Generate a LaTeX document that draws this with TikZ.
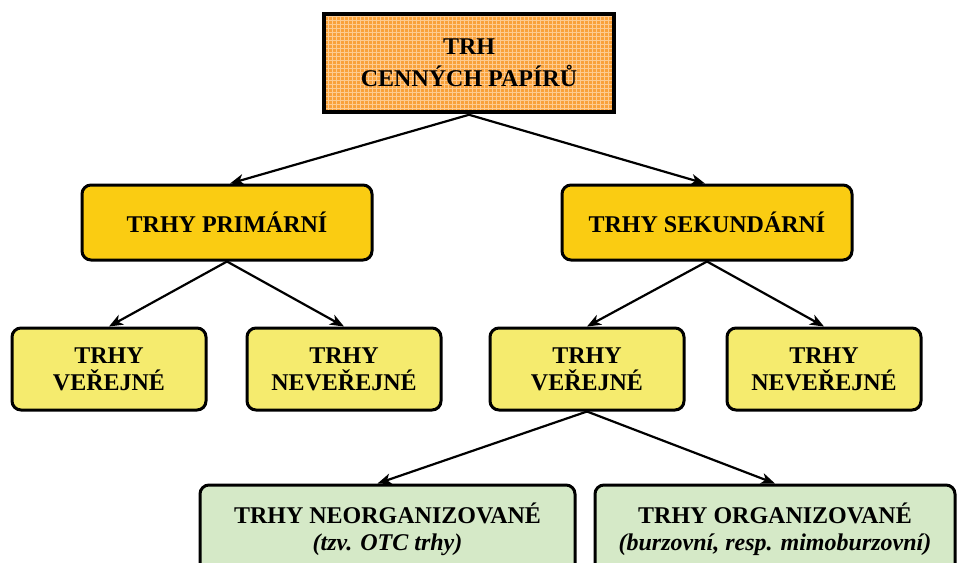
\documentclass[tikz,border=0pt]{standalone}
\usepackage{fontspec}
\setmainfont{Liberation Serif}
\usetikzlibrary{arrows.meta}
\definecolor{topfill}{HTML}{F9A13A}
\definecolor{topgrid}{HTML}{FDCB90}
\definecolor{gold}{HTML}{FACC12}
\definecolor{lightyel}{HTML}{F5EB6E}
\definecolor{lightgrn}{HTML}{D5E9C7}
\tikzset{
  labelfont/.style={font=\bfseries\fontsize{24}{27}\selectfont},
  box/.style={draw=black, line width=3pt, rounded corners=9pt, align=center,
    labelfont, inner sep=0pt},
  lvltwo/.style={box, fill=gold, minimum width=290pt, minimum height=75pt},
  lvlthree/.style={box, fill=lightyel, minimum width=194pt, minimum height=82pt},
  lvlfour/.style={box, fill=lightgrn, minimum height=100pt},
  arr/.style={-{Stealth[length=14pt,width=11pt,inset=4pt]}, line width=2.2pt}
}
\begin{document}
\begin{tikzpicture}[x=1pt,y=-1pt]
\useasboundingbox (0,0) rectangle (960,562);
\clip (0,0) rectangle (960,562);
% top box with a checked fill
\fill[topfill] (324,14) rectangle (614,112);
\begin{scope}
  \clip (324,14) rectangle (614,112);
  \draw[topgrid, line width=0.7pt] (324,14) grid[step=4pt] (614,112);
\end{scope}
\node[draw=black, line width=3.5pt, minimum width=290pt, minimum height=98pt, inner sep=0pt,
  align=center, font=\bfseries\fontsize{24}{32}\selectfont] (top) at (469,63) {TRH\\CENNÝCH PAPÍRŮ};
% second level
\node[lvltwo] (prim) at (227,222.5) {TRHY PRIMÁRNÍ};
\node[lvltwo] (sek) at (707,222.5) {TRHY SEKUNDÁRNÍ};
% third level
\node[lvlthree] (pv) at (109,369) {TRHY\\VEŘEJNÉ};
\node[lvlthree] (pn) at (344,369) {TRHY\\NEVEŘEJNÉ};
\node[lvlthree] (sv) at (587,369) {TRHY\\VEŘEJNÉ};
\node[lvlthree] (sn) at (824,369) {TRHY\\NEVEŘEJNÉ};
% fourth level (cut by the lower edge)
\node[lvlfour, minimum width=375pt] (neo) at (387.5,535) {};
\node[lvlfour, minimum width=360pt] (org) at (775,535) {};
\node[labelfont, align=center] (neotxt) at (387.5,529)
  {TRHY NEORGANIZOVANÉ\\{\itshape (tzv. OTC trhy)}};
\node[labelfont, align=center] (orgtxt) at (775,529)
  {TRHY ORGANIZOVANÉ\\{\itshape (burzovní, resp. mimoburzovní)}};
% connectors
\coordinate (topb) at ([yshift=-1pt]top.south);
\draw[arr] (topb) -- ([xshift=3pt]prim.north);
\draw[arr] (topb) -- ([xshift=-2pt]sek.north);
\draw[arr] (prim.south) -- (pv.north);
\draw[arr] (prim.south) -- (pn.north);
\draw[arr] (sek.south) -- (sv.north);
\draw[arr] (sek.south) -- (sn.north);
\draw[arr] (sv.south) -- ([xshift=-10pt]neo.north);
\draw[arr] (sv.south) -- (org.north);
\end{tikzpicture}
\end{document}
